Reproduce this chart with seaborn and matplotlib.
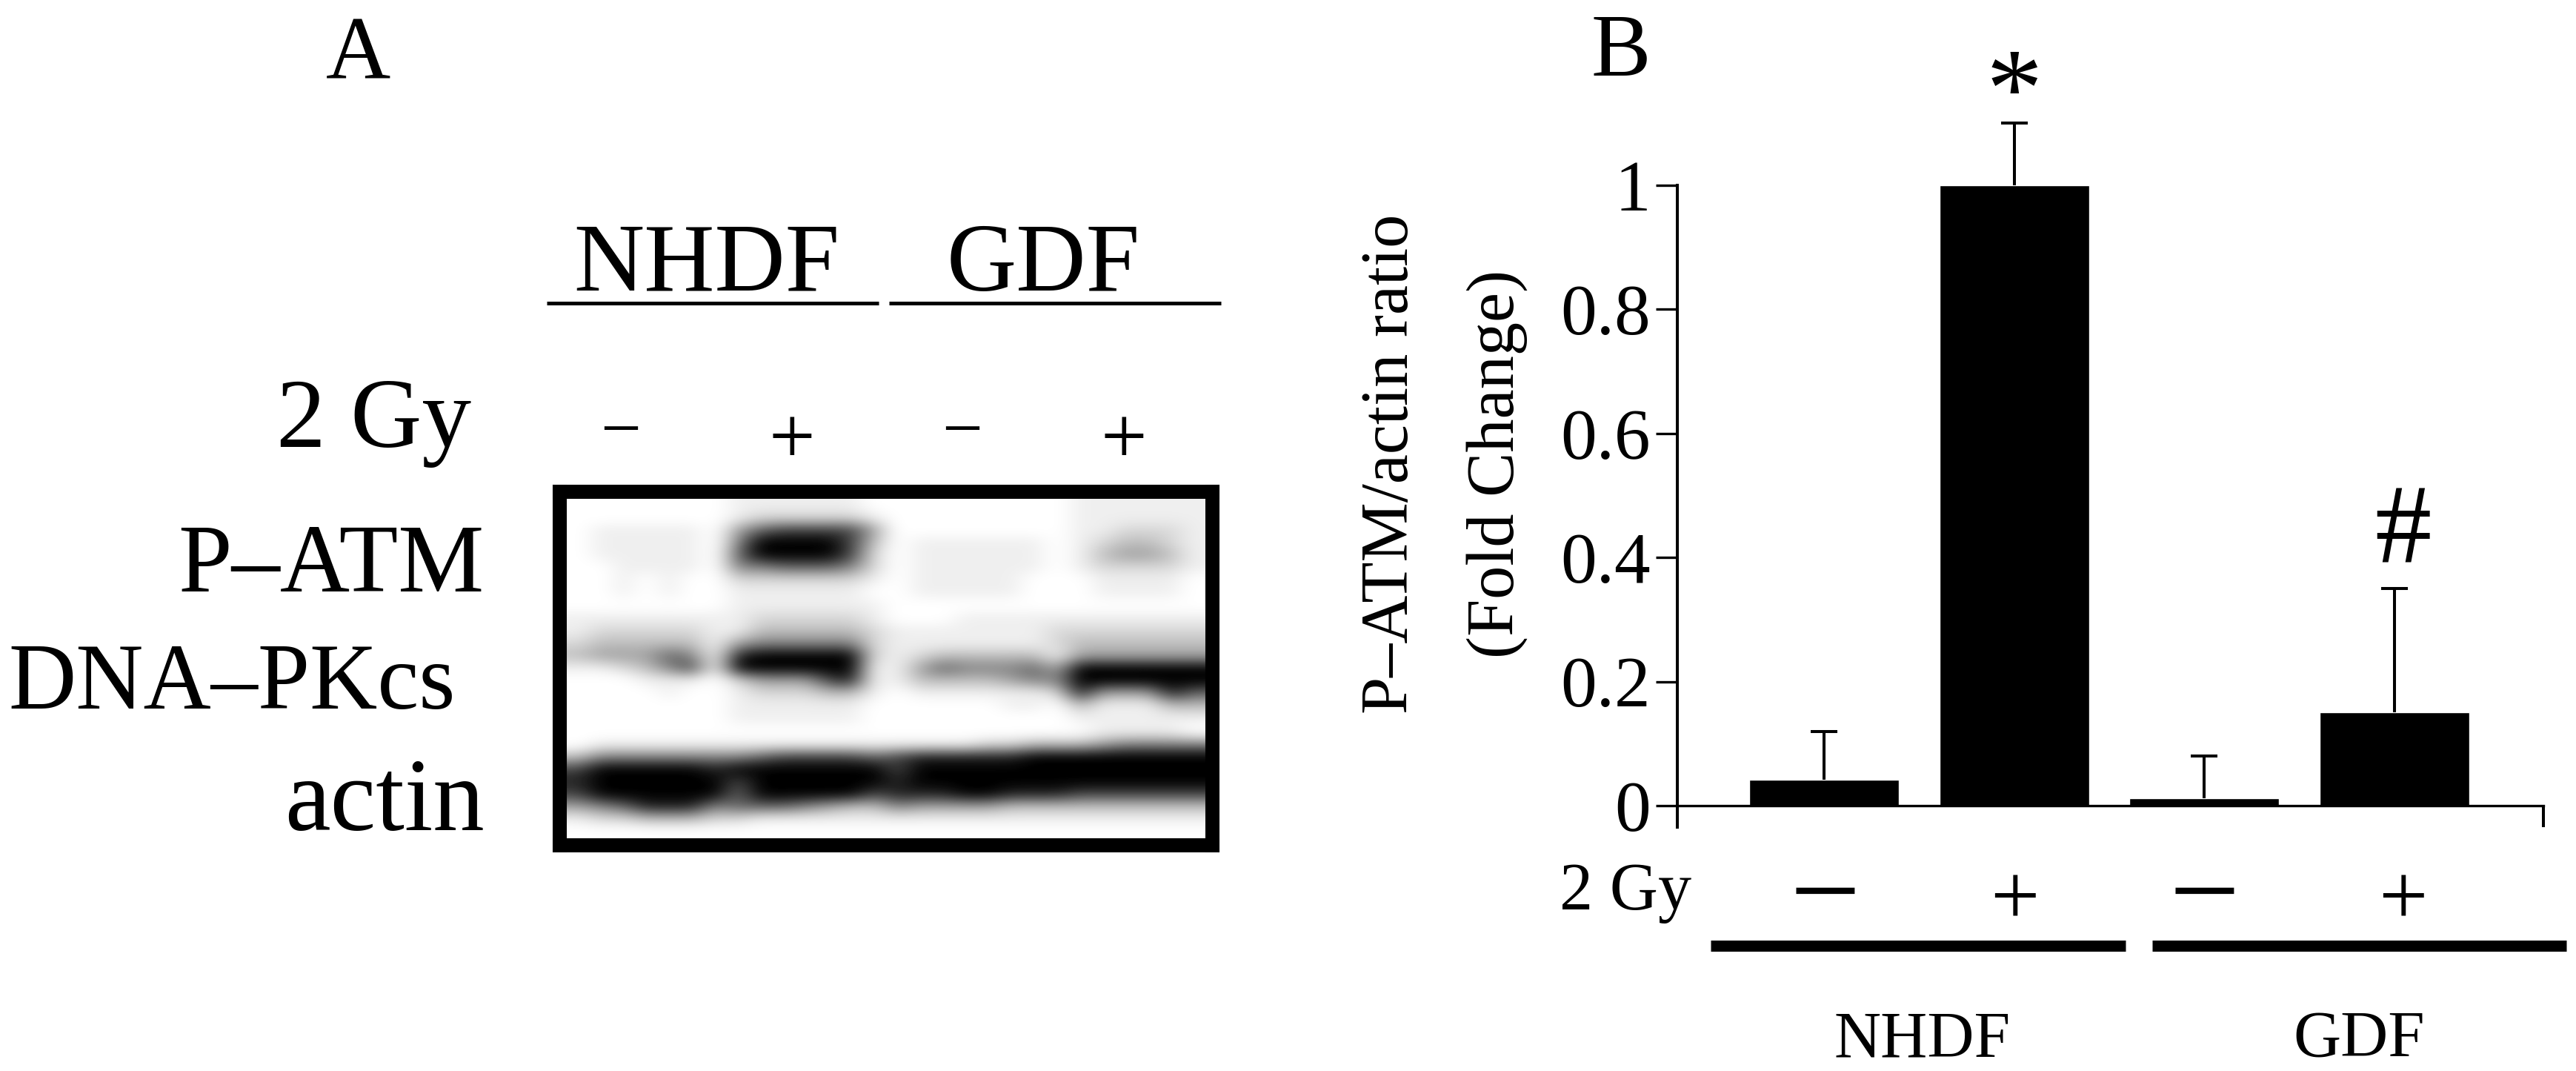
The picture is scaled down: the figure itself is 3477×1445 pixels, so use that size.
import numpy as np
import seaborn as sns
import matplotlib.pyplot as plt
from matplotlib.colors import PowerNorm
from matplotlib.lines import Line2D

OUTPUT_PATH = "out.png"
W, H = 3477, 1445

# panel B
CATEGORIES = ["NHDF -", "NHDF +", "GDF -", "GDF +"]
MEANS = [0.042, 1.0, 0.012, 0.15]
ERR_UP = [0.078, 0.10, 0.068, 0.20]
Y_TICKS = [0, 0.2, 0.4, 0.6, 0.8, 1]
Y_TICK_LABELS = ["0", "0.2", "0.4", "0.6", "0.8", "1"]

# panel A, blot darkness read by eye (0 white .. 9 black), one string per row
P_ATM_ROWS = [
    "0000000111111000000000111111",
    "0000000122222100000000111111",
    "0111110467777400000000112221",
    "0111110599997301111110123321",
    "0111110699997201111110134431",
    "0011110556665201111110122221",
    "0010100222222101111100011110",
    "0010100111111001111100011110",
    "0000000111111100000000000000",
]
DNA_PK_ROWS = [
    "1111111122222100011111111111",
    "1222221133333211111112222222",
    "2333331455555211111112333333",
    "3444651899999212333331444444",
    "1123571999999114655564999999",
    "0001110244478113333455999999",
    "0000100122233101111112844486",
    "0000000111111000000110311133",
    "0000000111111000000000111111",
    "0000000000000000000000011110",
]
ACTIN_ROWS = [
    "0111111111111111112233345555",
    "3555555567777678888899999999",
    "7999998999999979999999999999",
    "8999999799999989999999999999",
    "7999999699999788899888777777",
    "4568885666543354444333333333",
    "1223332211111111111111111111",
    "0000000000000000000000000000",
]

sns.set_theme(style="white")
plt.rcParams["font.family"] = ["Liberation Serif", "DejaVu Serif"]
plt.rcParams["text.color"] = "black"
plt.rcParams["axes.labelcolor"] = "black"
plt.rcParams["ytick.labelcolor"] = "black"


def fx(px):
    return px / W


def fy(py):
    return 1 - py / H


def label(fig, x, y, s, size, ha="center"):
    fig.text(fx(x), fy(y), s, fontsize=size, ha=ha, va="baseline", color="black")


def hline(fig, x0, x1, y, lw):
    fig.add_artist(Line2D([fx(x0), fx(x1)], [fy(y), fy(y)], color="black", lw=lw,
                          solid_capstyle="butt"))


def axes_px(fig, left, top, right, bottom):
    return fig.add_axes([fx(left), fy(bottom), (right - left) / W, (bottom - top) / H])


def plot_blot(fig):
    ax = axes_px(fig, 755, 663, 1636, 1140)
    rows = P_ATM_ROWS + DNA_PK_ROWS + ACTIN_ROWS
    grid = np.array([[int(c) for c in r] for r in rows])
    ax.imshow(grid, cmap="gray_r", norm=PowerNorm(1.25, vmin=0, vmax=9), aspect="auto",
              interpolation="bicubic")
    # grid fills the white area inside the frame only
    ax.set_xlim(-0.81, 27.81)
    ax.set_ylim(27.06, -1.06)
    ax.set_xticks([])
    ax.set_yticks([])
    for s in ax.spines.values():
        s.set_visible(True)
        s.set_linewidth(13.7)
        s.set_color("black")

    label(fig, 483, 106, "A", 87)
    label(fig, 954, 392, "NHDF", 95)
    label(fig, 1408, 392, "GDF", 94)
    hline(fig, 738, 1186, 409, 3.6)
    hline(fig, 1200, 1648, 409, 3.6)
    label(fig, 636, 603, "2 Gy", 96, ha="right")
    for x, s in zip([838, 1069, 1299, 1517], ["\u2212", "+", "\u2212", "+"]):
        label(fig, x, 610 if s != "+" else 625, s, 70 if s != "+" else 80)
    label(fig, 654, 798, "P\u2013ATM", 94, ha="right")
    label(fig, 11, 956, "DNA\u2013PKcs", 91, ha="left")
    label(fig, 654, 1120, "actin", 100, ha="right")


def plot_bars(fig):
    ax = axes_px(fig, 2264, 250, 3433, 1116)
    sns.barplot(x=CATEGORIES, y=MEANS, color="black", saturation=1, width=0.787,
                errorbar=None, ax=ax)
    _, caps, _ = ax.errorbar(range(4), MEANS, yerr=[np.zeros(4), ERR_UP], fmt="none",
                             ecolor="black", elinewidth=2.9, capsize=13, capthick=2.9,
                             clip_on=False)
    caps[0].set_visible(False)
    ax.set_xlim(-0.771, 3.783)
    ax.set_ylim(-0.0346, 1.0)
    ax.set_yticks(Y_TICKS)
    ax.set_yticklabels(Y_TICK_LABELS, fontsize=70)
    ax.set_xticks([3.783])
    ax.set_xticklabels([""])
    ax.tick_params(axis="y", direction="out", length=21, width=2.4, color="black", pad=5,
                   left=True)
    ax.tick_params(axis="x", direction="out", length=21, width=2.9, color="black", bottom=True)
    ax.spines["top"].set_visible(False)
    ax.spines["right"].set_visible(False)
    ax.spines["bottom"].set_position(("data", 0))
    ax.spines["left"].set_linewidth(2.9)
    ax.spines["bottom"].set_linewidth(2.4)
    ax.spines["left"].set_color("black")
    ax.spines["bottom"].set_color("black")

    ax.set_ylabel("P\u2013ATM/actin ratio\n(Fold Change)", fontsize=65, linespacing=1.95)
    ax.yaxis.set_label_coords(-0.173, 0.566)

    label(fig, 2188, 102, "B", 87)
    label(fig, 2719, 170, "*", 110)
    label(fig, 3243, 758, "#", 110)
    label(fig, 2283, 1227, "2 Gy", 65, ha="right")
    for x, s in zip([2463, 2719, 2975, 3243], ["\u2212", "+", "\u2212", "+"]):
        label(fig, x, 1258 if s != "+" else 1249, s, 122 if s != "+" else 85)
    hline(fig, 2309, 2869, 1276, 10.8)
    hline(fig, 2905, 3464, 1276, 10.8)
    label(fig, 2595, 1425, "NHDF", 63)
    label(fig, 3184, 1425, "GDF", 64)


def main():
    fig = plt.figure(figsize=(W / 100, H / 100), dpi=100, facecolor="white")
    plot_blot(fig)
    plot_bars(fig)
    fig.savefig(OUTPUT_PATH, dpi=100)


if __name__ == "__main__":
    main()
